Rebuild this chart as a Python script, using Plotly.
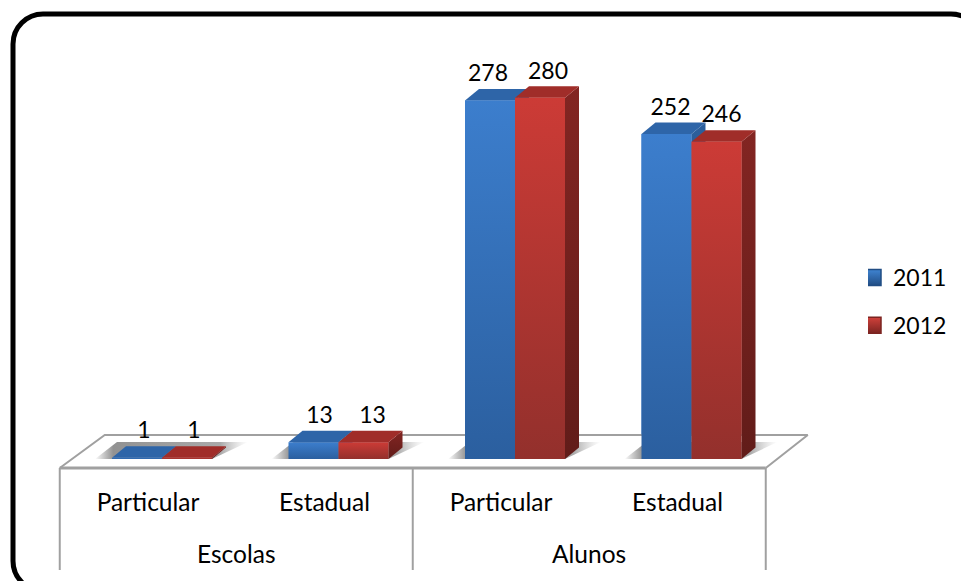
import plotly.graph_objects as go

# ---- data ----
groups = ["Escolas", "Alunos"]
categories = ["Particular", "Estadual", "Particular", "Estadual"]
series_names = ["2011", "2012"]
values_2011 = [1, 13, 278, 252]
values_2012 = [1, 13, 280, 246]

# ---- style ----
W, H = 961, 581
PX_X, PX_Y = 176.5, 1.29         # px per category, px per value unit
ZERO_X, ZERO_Y = 148, 459        # px position of category 0, value 0
SHIFT = 14 / PX_X                # bars sit deeper on the floor than the labels
BAR_W = 50 / PX_X
DX, DY = 14 / PX_X, 11.5 / PX_Y  # 3D depth
GREY = "#a0a0a0"
FONT = "Lato"
FS_TEXT = 24.5
FS_NUM = 23
BLUE = dict(front=("#2b5f9f", "#3c7ecd"), top="#2e65a8", side=("#234f85", "#2c5f9c"),
            legend=("#214d84", "#3f84d2"))
RED = dict(front=("#93302c", "#cc3b36"), top="#a02d29", side=("#611c19", "#832522"),
           legend=("#7c2421", "#d0413b"))
LABEL_NUDGE = ([7, 6, -2, 4], [7, 9, 8, 5])  # px, labels follow the 3D perspective

fig = go.Figure()


def poly(xs, ys, color=None, grad=None, gtype="vertical", line=None):
    kw = dict(x=xs + xs[:1], y=ys + ys[:1], mode="lines", fill="toself",
              showlegend=False, hoverinfo="skip",
              line=dict(width=0) if line is None else line)
    if grad:
        kw["fillgradient"] = dict(type=gtype, colorscale=grad)
    else:
        kw["fillcolor"] = color
    fig.add_trace(go.Scatter(**kw))


def seg(xs, ys, width=2):
    fig.add_trace(go.Scatter(x=xs, y=ys, mode="lines", showlegend=False, hoverinfo="skip",
                             line=dict(color=GREY, width=width)))


# real bars (base layer), one series each
for name, vals, style, off in ((series_names[0], values_2011, BLUE, -BAR_W),
                               (series_names[1], values_2012, RED, 0.0)):
    fig.add_trace(go.Bar(x=[i + SHIFT for i in range(len(vals))], y=vals, name=name,
                         width=BAR_W, offset=off, showlegend=False,
                         marker=dict(color=style["front"][1], line=dict(width=0))))

# floor
fy, by = -9 / PX_Y, 24 / PX_Y
fl, fr = -0.5, 3.5
bl, br = fl + 45 / PX_X, fr + 42 / PX_X
poly([fl, fr, br, bl], [fy, fy, by, by], color="white")
seg([fl, bl, br, fr], [fy, by, by, fy], 2)
seg([fl, fr], [fy, fy], 3)
cell_bottom = -111 / PX_Y
for xv in (fl, 1.5, fr):
    seg([xv, xv], [fy, cell_bottom], 2)

# shadows on the floor
sh_grad = [[0, "rgba(130,130,130,0)"], [0.12, "rgba(140,140,140,0.95)"],
           [0.82, "rgba(165,165,165,0.95)"], [1, "rgba(200,200,200,0)"]]
for i in range(4):
    c = i + SHIFT
    l, r = c - BAR_W - 17 / PX_X, c + BAR_W
    poly([l, r, r + 36 / PX_X, l + 22 / PX_X],
         [0, 0, 17 / PX_Y, 17 / PX_Y], grad=sh_grad, gtype="horizontal")

# 3D faces computed from the values
for vals, style, off in ((values_2011, BLUE, -BAR_W), (values_2012, RED, 0.0)):
    for i, v in enumerate(vals):
        x0 = i + SHIFT + off
        x1 = x0 + BAR_W
        poly([x1, x1 + DX, x1 + DX, x1], [0, DY, v + DY, v],
             grad=[[0, style["side"][0]], [1, style["side"][1]]])
        poly([x0, x1, x1 + DX, x0 + DX], [v, v, v + DY, v + DY], color=style["top"])
        poly([x0, x1, x1, x0], [0, 0, v, v],
             grad=[[0, style["front"][0]], [1, style["front"][1]]])

# value labels
for vals, off, nudge in ((values_2011, -BAR_W / 2, LABEL_NUDGE[0]),
                         (values_2012, BAR_W / 2, LABEL_NUDGE[1])):
    fig.add_trace(go.Scatter(
        x=[i + SHIFT + off + nudge[i] / PX_X for i in range(4)],
        y=[v + 25 / PX_Y for v in vals],
        text=[str(v) for v in vals], mode="text", textposition="middle center",
        textfont=dict(family=FONT, size=FS_NUM, color="black"),
        showlegend=False, hoverinfo="skip"))

# legend entries
for name, style in ((series_names[0], BLUE), (series_names[1], RED)):
    fig.add_trace(go.Scatter(
        x=[None], y=[None], name=name, mode="markers", legendgroup=name,
        marker=dict(symbol="square", size=16, color=style["legend"][1],
                    gradient=dict(type="vertical", color=style["legend"][0]),
                    line=dict(color=style["legend"][0], width=1.5))))

# group labels
annotations = [
    dict(x=x, y=-94 / PX_Y, xref="x", yref="y", text=t, showarrow=False,
         font=dict(family=FONT, size=FS_TEXT, color="black"))
    for x, t in zip((0.5, 2.5), groups)
]

# rounded frame, runs off the page on the right and at the bottom
L, T, R_, B, r = 13, 14, 981, 591, 30
px = lambda v: v / W
py = lambda v: 1 - v / H
k = r * 0.45
frame = (f"M {px(L)} {py(B - r)} L {px(L)} {py(T + r)} "
         f"C {px(L)} {py(T + k)} {px(L + k)} {py(T)} {px(L + r)} {py(T)} "
         f"L {px(R_ - r)} {py(T)} "
         f"C {px(R_ - k)} {py(T)} {px(R_)} {py(T + k)} {px(R_)} {py(T + r)} "
         f"L {px(R_)} {py(B - r)} "
         f"C {px(R_)} {py(B - k)} {px(R_ - k)} {py(B)} {px(R_ - r)} {py(B)} "
         f"L {px(L + r)} {py(B)} "
         f"C {px(L + k)} {py(B)} {px(L)} {py(B - k)} {px(L)} {py(B - r)} Z")

fig.update_layout(
    width=W, height=H, margin=dict(l=0, r=0, t=0, b=0),
    paper_bgcolor="white", plot_bgcolor="white", autosize=False,
    barmode="overlay",
    font=dict(family=FONT, size=FS_TEXT, color="black"),
    xaxis=dict(domain=[0, 1], range=[-ZERO_X / PX_X, (W - ZERO_X) / PX_X],
               tickmode="array", tickvals=list(range(4)), ticktext=categories,
               showgrid=False, zeroline=False, showline=False, ticks="",
               anchor="free", position=1 - 485.5 / H,
               tickfont=dict(family=FONT, size=FS_TEXT, color="black")),
    yaxis=dict(domain=[0, 1], range=[-(H - ZERO_Y) / PX_Y, ZERO_Y / PX_Y],
               visible=False, showgrid=False, zeroline=False),
    legend=dict(x=868 / W, y=1 - 256 / H, xanchor="left", yanchor="top",
                bgcolor="rgba(0,0,0,0)", borderwidth=0, tracegroupgap=15,
                font=dict(family=FONT, size=FS_NUM, color="black"), indentation=-15),
    annotations=annotations,
    shapes=[dict(type="path", xref="paper", yref="paper", path=frame,
                 line=dict(color="black", width=5), fillcolor="rgba(0,0,0,0)")],
)

fig.write_html("out.html", post_script="document.body.style.margin='0';",
               config={"displayModeBar": False})
